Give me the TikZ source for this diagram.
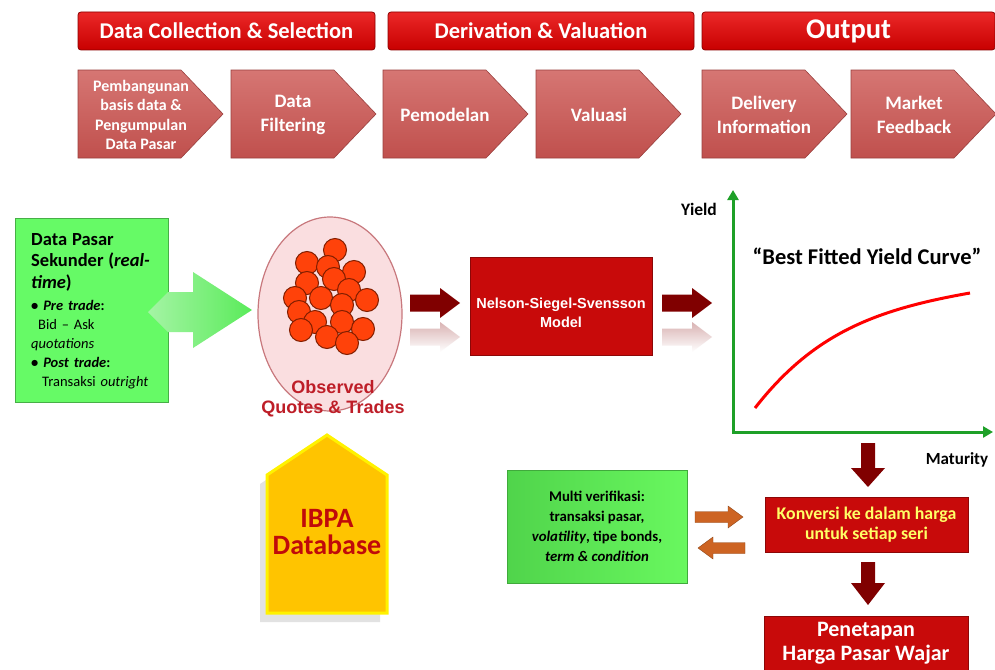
\documentclass[tikz,border=0pt]{standalone}
\usepackage{fontspec}
\setmainfont{Carlito}
\newfontfamily\arialfont{Liberation Sans}
\usetikzlibrary{shapes.geometric, arrows.meta, shadows}
\definecolor{barred}{RGB}{200,0,0}
\definecolor{barlight}{RGB}{235,40,40}
\definecolor{chevred}{RGB}{192,80,77}
\definecolor{chevlight}{RGB}{214,118,115}
\definecolor{pasargreen}{RGB}{102,250,102}
\definecolor{arrowgreen}{RGB}{90,235,90}
\definecolor{eggpink}{RGB}{250,222,224}
\definecolor{eggrim}{RGB}{200,120,125}
\definecolor{quotered}{RGB}{255,66,10}
\definecolor{quoterim}{RGB}{130,30,0}
\definecolor{obsred}{RGB}{190,30,40}
\definecolor{flowred}{RGB}{128,0,0}
\definecolor{modelred}{RGB}{200,10,10}
\definecolor{axisgreen}{RGB}{30,160,40}
\definecolor{ibpagold}{RGB}{255,196,0}
\definecolor{ibpatext}{RGB}{192,10,10}
\definecolor{verifgreen}{RGB}{105,248,95}
\definecolor{verifdark}{RGB}{80,212,75}
\definecolor{swaporange}{RGB}{205,100,35}
\definecolor{konvyellow}{RGB}{255,255,102}

\begin{document}
\begin{tikzpicture}
[every node/.style={inner sep=0pt},
 phasebar/.style={rectangle, rounded corners=3pt, top color=barlight, bottom color=barred, draw=barred!70!black, line width=0.8pt, text=white, font=\bfseries\fontsize{22.5}{25}\selectfont},
 chevron/.style={top color=chevlight, bottom color=chevred, draw=chevred!80!black, line width=0.6pt},
 chevtext/.style={text=white, align=center, font=\bfseries\fontsize{19}{23.5}\selectfont},
 quote/.style={circle, minimum size=23pt, fill=quotered, draw=quoterim, line width=1pt},
 redbox/.style={rectangle, fill=modelred, draw=modelred!70!black, line width=0.8pt, align=center},
 flowarrow/.style={fill=flowred},
 mirror/.style={top color=flowred!30, bottom color=white},
 swaparrow/.style={fill=swaporange, draw=swaporange!70!black, line width=0.4pt},
 axis/.style={draw=axisgreen, line width=3pt, {Triangle[length=10pt,width=11pt]}-{Triangle[length=10pt,width=11pt]}},
 curve/.style={draw=red, line width=3pt},
 axislabel/.style={font=\bfseries\fontsize{17.5}{19}\selectfont}]
\path [fill=white] (0pt,0pt) rectangle (995pt,-669pt);
\useasboundingbox (0pt,0pt) rectangle (995pt,-669pt);
% phase bars
\node (collect) [phasebar, minimum width=297pt, minimum height=38pt] at (226.5pt, -31pt) {Data Collection \& Selection};
\node (derive) [phasebar, minimum width=306pt, minimum height=38pt] at (541pt, -31pt) {Derivation \& Valuation};
\node (output) [phasebar, minimum width=293pt, minimum height=38pt, font=\bfseries\fontsize{28.5}{30}\selectfont] at (848.5pt, -31pt) {Output};
% process steps
\path [chevron] (78pt,-70pt) -- ++(103pt,0pt) -- ++(42pt,-44pt) -- ++(-42pt,-44pt) -- ++(-103pt,0pt) -- cycle;
\path [chevron] (231pt,-70pt) -- ++(103pt,0pt) -- ++(42pt,-44pt) -- ++(-42pt,-44pt) -- ++(-103pt,0pt) -- cycle;
\path [chevron] (383pt,-70pt) -- ++(103pt,0pt) -- ++(42pt,-44pt) -- ++(-42pt,-44pt) -- ++(-103pt,0pt) -- cycle;
\path [chevron] (536pt,-70pt) -- ++(103pt,0pt) -- ++(42pt,-44pt) -- ++(-42pt,-44pt) -- ++(-103pt,0pt) -- cycle;
\path [chevron] (702pt,-70pt) -- ++(103pt,0pt) -- ++(42pt,-44pt) -- ++(-42pt,-44pt) -- ++(-103pt,0pt) -- cycle;
\path [chevron] (851pt,-70pt) -- ++(103pt,0pt) -- ++(42pt,-44pt) -- ++(-42pt,-44pt) -- ++(-103pt,0pt) -- cycle;
\node (bangun) [chevtext, font=\bfseries\fontsize{16}{19.5}\selectfont] at (141pt, -115pt) {Pembangunan\\basis data \&\\Pengumpulan\\Data Pasar};
\node (filter) [chevtext] at (293pt, -115pt) {Data\\Filtering};
\node (pemodelan) [chevtext] at (445pt, -115pt) {Pemodelan};
\node (valuasi) [chevtext] at (599pt, -115pt) {Valuasi};
\node (deliver) [chevtext] at (764pt, -115pt) {Delivery\\Information};
\node (feedback) [chevtext] at (914pt, -115pt) {Market\\Feedback};
% market data
\node (pasar) [rectangle, fill=pasargreen, draw=pasargreen!70!black, line width=0.6pt, minimum width=153pt, minimum height=184pt] at (91.5pt, -310pt) {};
\node (pasartext) [anchor=north west, text width=140pt, align=left, font=\fontsize{14.5}{19}\selectfont] at (31pt, -233pt) {{\fontsize{18.5}{19}\selectfont\bfseries Data Pasar\\[2.5pt] Sekunder (\textit{real-}\\[2.5pt] \textit{time})}\\[3pt]
\textbf{• \textit{Pre trade}:}\\
\hspace*{7pt}Bid -- Ask\\
\textit{quotations}\\
\textbf{• \textit{Post trade}:}\\
\hspace*{11pt}Transaksi \textit{outright}};
\shade [left color=arrowgreen!55, right color=arrowgreen] (168pt,-292pt) -- (193pt,-292pt) -- (193pt,-272pt) -- (252pt,-310pt) -- (193pt,-348pt) -- (193pt,-332pt) -- (168pt,-332pt) -- (148pt,-312pt) -- cycle;
% observed quotes
\node (obs) [ellipse, minimum width=144pt, minimum height=194pt, fill=eggpink, draw=eggrim, line width=1.2pt] at (330pt, -314pt) {};
\node (q1) [quote] at (335pt, -250pt) {};
\node (q2) [quote] at (307pt, -263pt) {};
\node (q3) [quote] at (354pt, -272pt) {};
\node (q4) [quote] at (328pt, -267pt) {};
\node (q5) [quote] at (307pt, -283pt) {};
\node (q6) [quote] at (334pt, -279pt) {};
\node (q7) [quote] at (349pt, -290pt) {};
\node (q8) [quote] at (295pt, -298pt) {};
\node (q9) [quote] at (321pt, -298pt) {};
\node (q10) [quote] at (367pt, -300pt) {};
\node (q11) [quote] at (342pt, -305pt) {};
\node (q12) [quote] at (299pt, -312pt) {};
\node (q13) [quote] at (315pt, -322pt) {};
\node (q14) [quote] at (342pt, -322pt) {};
\node (q15) [quote] at (301pt, -330pt) {};
\node (q16) [quote] at (363pt, -329pt) {};
\node (q17) [quote] at (327pt, -337pt) {};
\node (q18) [quote] at (347pt, -343pt) {};
\node (obstext) [align=center, text=obsred, font=\arialfont\bfseries\fontsize{18}{20}\selectfont] at (333pt, -399pt) {Observed\\Quotes \& Trades};
% model
\path [flowarrow] (410pt,-294.5pt) -- ++(30pt,0pt) -- ++(0pt,6.5pt) -- ++(20pt,-15pt) -- ++(-20pt,-15pt) -- ++(0pt,6.5pt) -- ++(-30pt,0pt) -- cycle;
\path [mirror] (410pt,-328.5pt) -- ++(30pt,0pt) -- ++(0pt,6.5pt) -- ++(20pt,-15pt) -- ++(-20pt,-15pt) -- ++(0pt,6.5pt) -- ++(-30pt,0pt) -- cycle;
\node (nss) [redbox, minimum width=182pt, minimum height=98pt] at (561pt, -306pt) {};
\node (nsstext) [align=center, text=white, font=\arialfont\bfseries\fontsize{14.5}{19}\selectfont] at (561pt, -313pt) {Nelson-Siegel-Svensson\\Model};
\path [flowarrow] (662pt,-294.5pt) -- ++(30pt,0pt) -- ++(0pt,6.5pt) -- ++(20pt,-15pt) -- ++(-20pt,-15pt) -- ++(0pt,6.5pt) -- ++(-30pt,0pt) -- cycle;
\path [mirror] (662pt,-328.5pt) -- ++(30pt,0pt) -- ++(0pt,6.5pt) -- ++(20pt,-15pt) -- ++(-20pt,-15pt) -- ++(0pt,6.5pt) -- ++(-30pt,0pt) -- cycle;
% yield curve
\coordinate (origin) at (733pt, -432pt);
\coordinate (ytip) at (733pt, -190pt);
\coordinate (xtip) at (993pt, -432pt);
\coordinate (c0) at (755pt, -408pt);
\coordinate (c1) at (970pt, -293pt);
\draw [axis] (ytip) |- (xtip);
\draw [curve] (c0) to [out=52, in=190] (c1);
\node (yield) [axislabel] at (699pt, -209pt) {Yield};
\node (maturity) [axislabel, font=\bfseries\fontsize{17}{19}\selectfont] at (957pt, -460pt) {Maturity};
\node (best) [font=\bfseries\fontsize{22.5}{26}\selectfont] at (867pt, -256pt) {“Best Fitted Yield Curve”};
% IBPA database
\path [fill=ibpagold, draw=yellow, line width=3pt, drop shadow={shadow xshift=-7pt, shadow yshift=-9pt, fill=black!25, opacity=0.45}] (267pt,-475pt) -- (327pt,-435pt) -- (387pt,-475pt) -- (387pt,-613pt) -- (267pt,-613pt) -- cycle;
\node (ibpa) [align=center, text=ibpatext, font=\bfseries\fontsize{28}{27}\selectfont] at (327pt, -532pt) {IBPA\\Database};
% pricing
\node (verif) [rectangle, left color=verifdark, right color=verifgreen, draw=verifdark!80!black, line width=0.6pt, minimum width=180pt, minimum height=113pt, align=center, font=\bfseries\fontsize{14.8}{20}\selectfont] at (597pt, -526.5pt) {Multi verifikasi:\\transaksi pasar,\\\textit{volatility}, tipe bonds,\\\textit{term \& condition}};
\path [swaparrow] (695pt,-511.5pt) -- ++(33pt,0pt) -- ++(0pt,5.5pt) -- ++(15pt,-11pt) -- ++(-15pt,-11pt) -- ++(0pt,5.5pt) -- ++(-33pt,0pt) -- cycle;
\path [swaparrow] (745pt,-542.5pt) -- ++(-32pt,0pt) -- ++(0pt,5.5pt) -- ++(-15pt,-11pt) -- ++(15pt,-11pt) -- ++(0pt,5.5pt) -- ++(32pt,0pt) -- cycle;
\path [flowarrow] (861pt,-443pt) -- ++(14pt,0pt) -- ++(0pt,-25pt) -- ++(10pt,0pt) -- ++(-17pt,-19pt) -- ++(-17pt,19pt) -- ++(10pt,0pt) -- cycle;
\node (konversi) [redbox, minimum width=203pt, minimum height=55pt, text=konvyellow, font=\bfseries\fontsize{17.8}{20}\selectfont] at (866.5pt, -525pt) {Konversi ke dalam harga\\untuk setiap seri};
\path [flowarrow] (861pt,-562pt) -- ++(14pt,0pt) -- ++(0pt,-21pt) -- ++(10pt,0pt) -- ++(-17pt,-22pt) -- ++(-17pt,22pt) -- ++(10pt,0pt) -- cycle;
\node (penetapan) [redbox, minimum width=204pt, minimum height=54pt, text=white, font=\bfseries\fontsize{22}{24.5}\selectfont] at (866pt, -643pt) {Penetapan\\Harga Pasar Wajar};
\end{tikzpicture}
\end{document}
